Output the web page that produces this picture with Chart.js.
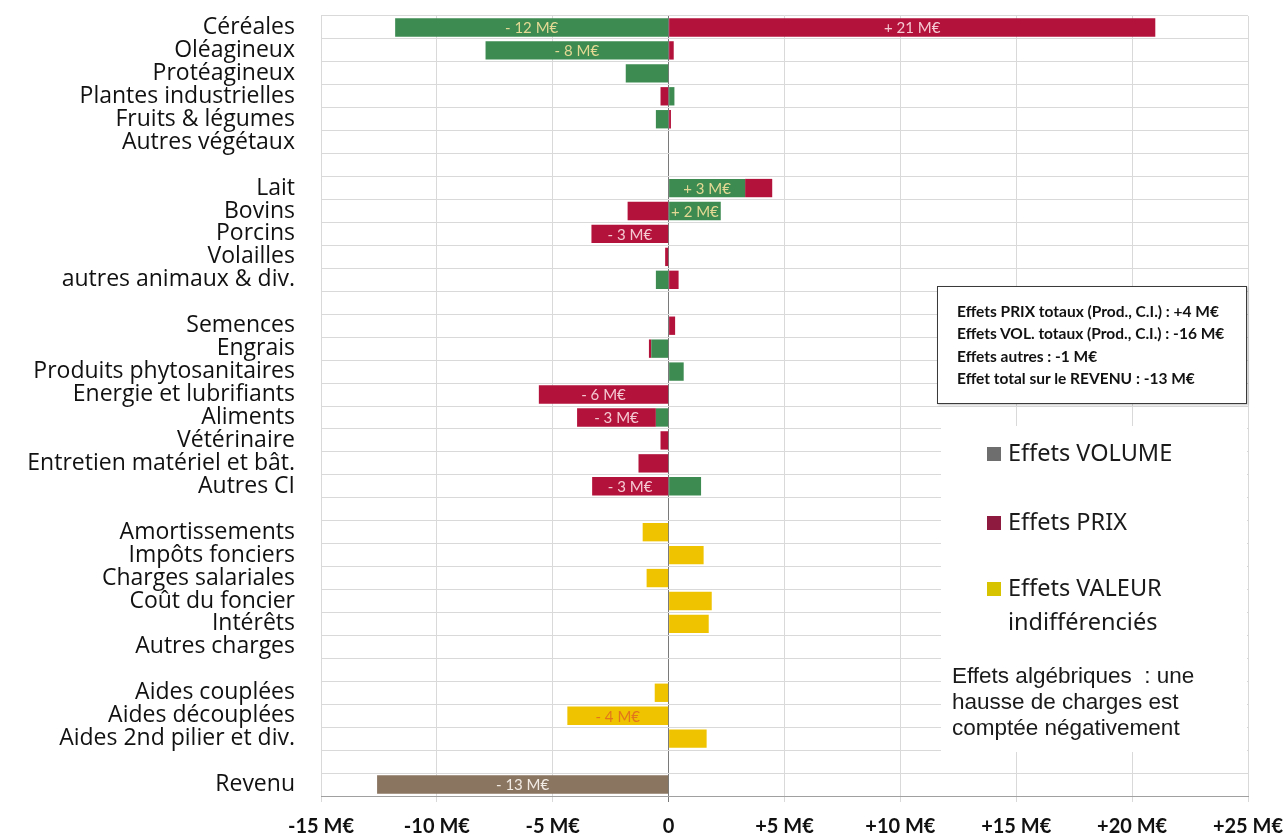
<!DOCTYPE html>
<html lang="fr">
<head>
<meta charset="utf-8">
<title>Décomposition de l'évolution du revenu</title>
<script src="https://cdn.jsdelivr.net/npm/chart.js@4/dist/chart.umd.min.js"></script>
<style>
  html, body { margin: 0; padding: 0; background: #fff; }
  #wrap { position: relative; width: 1287px; height: 834px; overflow: hidden; }
  #chart { position: absolute; left: 0; top: 0; }
  #info {
    position: absolute; left: 937px; top: 286px; width: 310px; height: 118px;
    box-sizing: border-box; border: 1px solid #3a3a3a; background: #fff;
    box-shadow: 1px 1px 2px rgba(0,0,0,0.25);
    font-family: Lato, sans-serif; font-weight: bold; font-size: 15.5px; color: #111;
    padding: 13px 0 0 19px; line-height: 22.4px; white-space: nowrap;
  }
  #legend {
    position: absolute; left: 941px; top: 426px; width: 306px; height: 326px;
    background: #fff;
  }
  .item { position: absolute; left: 46px; font-family: "Noto Sans", sans-serif; font-size: 23.5px; color: #1a1a1a; line-height: 34px; }
  .item .box { position: absolute; left: 0; top: 12px; width: 14px; height: 14px; }
  .item .txt { padding-left: 21px; display: block; }
  #note {
    position: absolute; left: 11px; top: 237px;
    font-family: "Liberation Sans", Arial, sans-serif; font-size: 22.5px; color: #1a1a1a;
    line-height: 26px; white-space: nowrap;
  }
</style>
</head>
<body>
<div id="wrap">
  <canvas id="chart" width="1287" height="834"></canvas>
  <div id="info">
    <div>Effets PRIX totaux (Prod., C.I.) : +4 M€</div>
    <div>Effets VOL. totaux (Prod., C.I.) : -16 M€</div>
    <div>Effets autres : -1 M€</div>
    <div>Effet total sur le REVENU : -13 M€</div>
  </div>
  <div id="legend"></div>
</div>
<script>
// Postes (blank entries separate the groups)
const categories = [
  'Céréales', 'Oléagineux', 'Protéagineux', 'Plantes industrielles', 'Fruits & légumes', 'Autres végétaux',
  '',
  'Lait', 'Bovins', 'Porcins', 'Volailles', 'autres animaux & div.',
  '',
  'Semences', 'Engrais', 'Produits phytosanitaires', 'Energie et lubrifiants', 'Aliments',
  'Vétérinaire', 'Entretien matériel et bât.', 'Autres CI',
  '',
  'Amortissements', 'Impôts fonciers', 'Charges salariales', 'Coût du foncier', 'Intérêts', 'Autres charges',
  '',
  'Aides couplées', 'Aides découplées', 'Aides 2nd pilier et div.',
  '',
  'Revenu'
];

// Effets en M€ (algébriques)
const effetsVolume = [
  -11.8, -7.9, -1.85, 0.25, -0.55, null,
  null,
  3.3, 2.25, null, null, -0.55,
  null,
  null, -0.75, 0.65, null, -0.55, null, null, 1.4,
  null,
  null, null, null, null, null, null,
  null,
  null, null, null,
  null,
  null
];
const effetsPrix = [
  21, 0.22, null, -0.35, 0.1, null,
  null,
  1.17, -1.77, -3.33, -0.15, 0.43,
  null,
  0.28, -0.1, null, -5.6, -3.4, -0.35, -1.3, -3.3,
  null,
  null, null, null, null, null, null,
  null,
  null, null, null,
  null,
  null
];
const effetsValeur = [
  null, null, null, null, null, null,
  null,
  null, null, null, null, null,
  null,
  null, null, null, null, null, null, null, null,
  null,
  -1.12, 1.51, -0.95, 1.86, 1.73, null,
  null,
  -0.6, -4.37, 1.64,
  null,
  null
];
const revenu = [
  null, null, null, null, null, null,
  null,
  null, null, null, null, null,
  null,
  null, null, null, null, null, null, null, null,
  null,
  null, null, null, null, null, null,
  null,
  null, null, null,
  null,
  -12.58
];

const xTicks = [-15, -10, -5, 0, 5, 10, 15, 20, 25];

const seriesNames = ['Effets VOLUME', 'Effets PRIX', 'Effets VALEUR indifférenciés', 'Revenu'];
const barColors = ['#3d8b51', '#b3123b', '#efc300', '#8a7561'];
const valueLabelColors = ['#e3d995', '#f5c9d2', '#e2761a', '#f1ebe4'];

const fmtMe = v => (v < 0 ? '- ' : '+ ') + Math.round(Math.abs(v)) + ' M€';

// Writes the rounded value inside every bar that is wide enough
const barValueLabels = {
  id: 'barValueLabels',
  afterDatasetsDraw(chart) {
    const ctx = chart.ctx;
    ctx.save();
    ctx.font = '15px Lato, sans-serif';
    ctx.textAlign = 'center';
    ctx.textBaseline = 'middle';
    chart.data.datasets.forEach((ds, di) => {
      const meta = chart.getDatasetMeta(di);
      meta.data.forEach((el, i) => {
        const v = ds.data[i];
        if (v === null || Math.abs(v) < 2) return;
        const p = el.getProps(['x', 'y', 'base'], true);
        ctx.fillStyle = valueLabelColors[di];
        ctx.fillText(fmtMe(v), (p.x + p.base) / 2, p.y + 1);
      });
    });
    ctx.restore();
  }
};

const chart = new Chart(document.getElementById('chart'), {
  type: 'bar',
  data: {
    labels: categories,
    datasets: [effetsVolume, effetsPrix, effetsValeur, revenu].map((d, i) => ({
      label: seriesNames[i],
      data: d,
      backgroundColor: barColors[i],
      borderWidth: 0,
      stack: 'effets',
      barPercentage: 0.8,
      categoryPercentage: 1
    }))
  },
  options: {
    indexAxis: 'y',
    responsive: false,
    animation: false,
    layout: { padding: { top: 16, right: 39, bottom: 0, left: 0 } },
    plugins: { legend: { display: false }, tooltip: { enabled: false } },
    scales: {
      x: {
        stacked: true,
        min: xTicks[0],
        max: xTicks[xTicks.length - 1],
        afterBuildTicks: s => { s.ticks = xTicks.map(v => ({ value: v })); },
        afterFit: s => { s.height = 38; s.paddingLeft = 0; s.paddingRight = 0; },
        ticks: {
          callback: v => v === 0 ? '0' : (v > 0 ? '+' : '') + v + ' M€',
          font: { family: 'Lato', weight: 'bold', size: 20 },
          color: '#111',
          padding: 13,
          maxRotation: 0
        },
        grid: {
          color: c => (c.tick && c.tick.value === 0) ? '#7a7a7a' : '#d9d9d9',
          tickLength: 6
        },
        border: { color: '#a0a0a0' }
      },
      y: {
        stacked: true,
        afterFit: s => { s.width = 321; s.paddingTop = 0; s.paddingBottom = 0; },
        ticks: {
          font: { family: 'Open Sans', size: 23 },
          color: '#111',
          padding: 26,
          autoSkip: false
        },
        grid: { color: '#d9d9d9', drawTicks: false },
        border: { display: false }
      }
    }
  },
  plugins: [barValueLabels]
});

// Legend beside the bars
const legendItems = [
  { text: ['Effets VOLUME'], color: '#6e6e6e', top: 9 },
  { text: ['Effets PRIX'], color: '#8e1b3f', top: 78 },
  { text: ['Effets VALEUR', 'indifférenciés'], color: '#d8c300', top: 144 }
];
const legend = document.getElementById('legend');
legendItems.forEach(it => {
  const d = document.createElement('div');
  d.className = 'item';
  d.style.top = it.top + 'px';
  d.innerHTML = '<span class="box" style="background:' + it.color + '"></span>' +
    it.text.map(t => '<span class="txt">' + t + '</span>').join('');
  legend.appendChild(d);
});
const note = document.createElement('div');
note.id = 'note';
note.innerHTML = 'Effets algébriques&nbsp; : une<br>hausse de charges est<br>comptée négativement';
legend.appendChild(note);
</script>
</body>
</html>
